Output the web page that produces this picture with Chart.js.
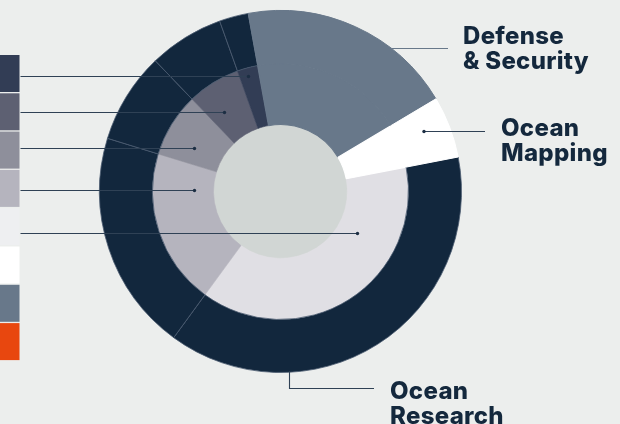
<!DOCTYPE html>
<html>
<head>
<meta charset="utf-8">
<script src="https://cdn.jsdelivr.net/npm/chart.js@4"></script>
<style>
  html, body { margin: 0; padding: 0; background: #eceeed; }
  canvas { display: block; }
</style>
</head>
<body>
<canvas id="chart" width="620" height="424"></canvas>
<script>
// Market shares in percent, listed clockwise starting at the first Ocean Research segment
const segments = [
  'Research segment 1', 'Research segment 2', 'Research segment 3',
  'Research segment 4', 'Research segment 5', 'Defense & Security', 'Ocean Mapping'
];
const shares = [38.1, 19.7, 8.1, 6.7, 2.6, 19.3, 5.5];

// Outer ring groups the sectors, inner ring splits Ocean Research
const outerColors = ['#12273d', '#12273d', '#12273d', '#12273d', '#12273d', '#68788a', '#ffffff'];
const innerColors = ['#e0dfe4', '#b5b4be', '#8e8f9b', '#5d6072', '#323d55', '#68788a', '#ffffff'];

// Key swatches, top to bottom
const legendColors = ['#323d55', '#5d6072', '#8e8f9b', '#b5b4be', '#eeeff1', '#ffffff', '#68788a', '#e8470f'];

// Sector captions
const sectorLabels = [
  ['Defense', '& Security'],
  ['Ocean', 'Mapping'],
  ['Ocean', 'Research']
];

const TEXT = '#14283d';
const LINE = '#2f4155';

// Callout dots for the key rows, offsets from the chart centre
const keyLeaders = [
  { dx: -32, dy: -116 },
  { dx: -56, dy: -80 },
  { dx: -86, dy: -44 },
  { dx: -86, dy: -2 },
  { dx: 77, dy: 41 }
];

const decorations = {
  id: 'decorations',
  beforeDatasetsDraw(chart) {
    const inner = chart.getDatasetMeta(1).data[0];
    const ctx = chart.ctx;
    ctx.save();
    ctx.fillStyle = '#d1d6d4';
    ctx.beginPath();
    ctx.arc(inner.x, inner.y, inner.innerRadius + 0.5, 0, Math.PI * 2);
    ctx.fill();
    ctx.restore();
  },
  afterDatasetsDraw(chart) {
    const ctx = chart.ctx;
    const outer = chart.getDatasetMeta(0).data[0];
    const cx = outer.x, cy = outer.y, R = outer.outerRadius;
    ctx.save();

    // key swatches, cut by the left edge
    const rowTop = 55, rowH = 38.3, swRight = 19.5;
    legendColors.forEach((c, i) => {
      ctx.fillStyle = c;
      ctx.fillRect(-30, rowTop + i * rowH, swRight + 30, rowH - 1.3);
    });

    // leaders from the key into the inner ring
    ctx.strokeStyle = LINE;
    ctx.fillStyle = '#1c2e43';
    ctx.lineWidth = 1.1;
    keyLeaders.forEach(l => {
      const x = cx + l.dx, y = Math.round(cy + l.dy) + 0.5;
      ctx.beginPath();
      ctx.moveTo(swRight + 1, y);
      ctx.lineTo(x, y);
      ctx.stroke();
      ctx.beginPath();
      ctx.arc(x, y, 1.7, 0, Math.PI * 2);
      ctx.fill();
    });

    // Defense & Security: from the rim out to the caption
    const yD = 48.5;
    const xD = cx + Math.sqrt(R * R - (yD - cy) * (yD - cy));
    ctx.strokeStyle = '#68788a';
    ctx.beginPath();
    ctx.moveTo(xD, yD);
    ctx.lineTo(448, yD);
    ctx.stroke();

    // Ocean Mapping: dot in the white sector
    ctx.strokeStyle = LINE;
    const yM = 131.5, xM = cx + 143.5;
    ctx.beginPath();
    ctx.moveTo(xM, yM);
    ctx.lineTo(485, yM);
    ctx.stroke();
    ctx.beginPath();
    ctx.arc(xM, yM, 1.7, 0, Math.PI * 2);
    ctx.fill();

    // Ocean Research: elbow from the bottom rim
    const xR = 289.5;
    const yR = cy + Math.sqrt(R * R - (xR - cx) * (xR - cx));
    ctx.beginPath();
    ctx.moveTo(xR, yR - 1);
    ctx.lineTo(xR, 388.5);
    ctx.lineTo(374, 388.5);
    ctx.stroke();

    // captions
    ctx.fillStyle = TEXT;
    ctx.font = '800 24px Inter, "Noto Sans", sans-serif';
    if ('letterSpacing' in ctx) ctx.letterSpacing = '0.3px';
    ctx.textBaseline = 'alphabetic';
    ctx.textAlign = 'left';
    const spots = [
      { x: 463, y: 44 },
      { x: 501, y: 136 },
      { x: 390, y: 399 }
    ];
    sectorLabels.forEach((lines, i) => {
      lines.forEach((t, j) => ctx.fillText(t, spots[i].x, spots[i].y + j * 25));
    });
    ctx.restore();
  }
};

new Chart(document.getElementById('chart'), {
  type: 'doughnut',
  data: {
    labels: segments,
    datasets: [
      {
        data: shares,
        backgroundColor: outerColors,
        borderColor: ['#4a5b70', '#4a5b70', '#4a5b70', '#4a5b70', '#4a5b70', '#68788a', '#ffffff'],
        borderWidth: [0.8, 0.8, 0.8, 0.8, 0.8, 1, 1],
        hoverBorderWidth: 1,
        weight: 53
      },
      {
        data: shares,
        backgroundColor: innerColors,
        borderColor: innerColors,
        borderWidth: [0.6, 0.6, 0.6, 0.6, 0.6, 1.2, 1.2],
        weight: 61
      }
    ]
  },
  options: {
    responsive: false,
    animation: false,
    devicePixelRatio: 1,
    rotation: 79,
    cutout: '37%',
    events: [],
    layout: { padding: { left: 99, right: 158, top: 10, bottom: 51 } },
    plugins: {
      legend: { display: false },
      tooltip: { enabled: false }
    }
  },
  plugins: [decorations]
});
</script>
</body>
</html>
